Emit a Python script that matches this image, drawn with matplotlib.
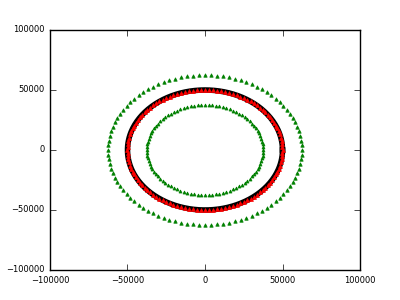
import numpy as np
import matplotlib
matplotlib.use('Agg')
import matplotlib.pyplot as plt

plt.style.use('classic')

# radii of the three rings
r_mid = 50000
r_out = 62500
r_in = 37500
n_mid = 120
n_ring = 100

t_line = np.linspace(0, 2*np.pi, 400)
t_mid = np.linspace(0, 2*np.pi, n_mid, endpoint=False)
t_ring = np.linspace(0, 2*np.pi, n_ring, endpoint=False)

fig = plt.figure(figsize=(4, 3), dpi=100)
ax = fig.add_subplot(111)
ax.plot(r_mid*np.cos(t_line), r_mid*np.sin(t_line), 'k-', lw=4)
ax.plot(r_mid*np.cos(t_mid), r_mid*np.sin(t_mid), 'r^', ms=2.8, mec='r')
ax.plot(r_out*np.cos(t_ring), r_out*np.sin(t_ring), 'g^', ms=2.5, mec='g')
ax.plot(r_in*np.cos(t_ring), r_in*np.sin(t_ring), 'g^', ms=2.2, mec='g')
ax.set_xlim(-100000, 100000)
ax.set_ylim(-100000, 100000)
ax.set_xticks([-100000, -50000, 0, 50000, 100000])
ax.set_yticks([-100000, -50000, 0, 50000, 100000])
ax.tick_params(labelsize=6)
ax.ticklabel_format(useOffset=False, style='plain')

fig.savefig('out.png', dpi=100)
